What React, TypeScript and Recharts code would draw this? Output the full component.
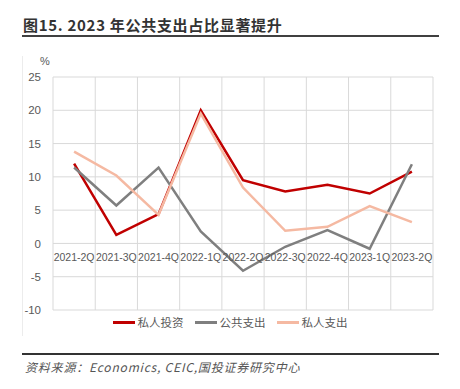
import React from 'react';
import {
  LineChart,
  Line,
  XAxis,
  YAxis,
  CartesianGrid,
} from 'recharts';

const quarters = [
  '2021-2Q',
  '2021-3Q',
  '2021-4Q',
  '2022-1Q',
  '2022-2Q',
  '2022-3Q',
  '2022-4Q',
  '2023-1Q',
  '2023-2Q',
];
const privateInvest = [12.0, 1.3, 4.4, 20.0, 9.5, 7.8, 8.8, 7.5, 10.8];
const publicSpend = [11.4, 5.7, 11.4, 1.8, -4.1, -0.5, 2.0, -0.8, 11.9];
const privateSpend = [13.8, 10.2, 4.3, 19.5, 8.4, 1.9, 2.5, 5.6, 3.2];
const yTicks = [-10, -5, 0, 5, 10, 15, 20, 25];

const series = [
  { name: '私人投资', values: privateInvest, color: '#c00000' },
  { name: '公共支出', values: publicSpend, color: '#7f7f7f' },
  { name: '私人支出', values: privateSpend, color: '#f5b9a2' },
];

// category i sits in the middle of band [i, i+1]
const data = quarters.map((q, i) => {
  const row: any = { name: q, pos: i + 0.5 };
  series.forEach((s) => (row[s.name] = s.values[i]));
  return row;
});
const labelTicks = quarters.map((_, i) => i + 0.5);
const gridTicks = [...quarters.map((_, i) => i), quarters.length];

const font = '"Liberation Sans", Arial, "Noto Sans CJK SC", sans-serif';
const cjk = '"Noto Sans CJK SC", sans-serif';

const QuarterTick = (props: any) => {
  const { x, y, payload } = props;
  return (
    <text
      x={x}
      y={y - 87}
      textAnchor="middle"
      fontSize={10.5}
      fill="#595959"
      fontFamily={font}
    >
      {quarters[Math.floor(payload.value)]}
    </text>
  );
};

export default function App() {
  return (
    <div
      style={{
        position: 'absolute',
        left: 0,
        top: 0,
        width: 460,
        height: 389,
        background: '#fff',
        fontFamily: font,
      }}
    >
      <div
        style={{
          position: 'absolute',
          left: 23,
          top: 14,
          fontSize: 15,
          fontWeight: 'bold',
          letterSpacing: 0.7,
          color: '#333',
          fontFamily: cjk,
          whiteSpace: 'nowrap',
        }}
      >
        图15. 2023 年公共支出占比显著提升
      </div>
      <div
        style={{
          position: 'absolute',
          left: 22,
          top: 35,
          width: 417,
          height: 2,
          background: '#404040',
        }}
      />
      <div
        style={{
          position: 'absolute',
          left: 22,
          top: 56,
          width: 1,
          height: 280,
          background: '#ececec',
        }}
      />
      <div
        style={{
          position: 'absolute',
          left: 40,
          top: 55,
          fontSize: 11,
          color: '#595959',
        }}
      >
        %
      </div>
      <div style={{ position: 'absolute', left: 0, top: 0 }}>
        <LineChart
          width={460}
          height={340}
          data={data}
          margin={{ top: 77, right: 27, bottom: 0, left: 0 }}
        >
          <XAxis
            xAxisId="grid"
            type="number"
            dataKey="pos"
            domain={[0, quarters.length]}
            ticks={gridTicks}
            hide
          />
          <XAxis
            xAxisId="lab"
            type="number"
            dataKey="pos"
            domain={[0, quarters.length]}
            ticks={labelTicks}
            interval={0}
            axisLine={false}
            tickLine={false}
            height={30}
            tick={<QuarterTick />}
          />
          <YAxis
            domain={[-10, 25]}
            ticks={yTicks}
            axisLine={false}
            tickLine={false}
            width={53}
            tick={{ fontSize: 11.5, fill: '#595959', fontFamily: font }}
            tickMargin={6}
          />
          <CartesianGrid xAxisId="grid" stroke="#d9d9d9" strokeWidth={1} />
          {series.map((s) => (
            <Line
              key={s.name}
              xAxisId="lab"
              dataKey={s.name}
              stroke={s.color}
              strokeWidth={2.5}
              dot={false}
              isAnimationActive={false}
            />
          ))}
        </LineChart>
      </div>
      <div
        style={{
          position: 'absolute',
          left: 0,
          top: 314,
          width: 460,
          display: 'flex',
          justifyContent: 'center',
          gap: 11,
          fontSize: 11.5,
          color: '#595959',
          fontFamily: cjk,
        }}
      >
        {series.map((s) => (
          <div key={s.name} style={{ display: 'flex', alignItems: 'center' }}>
            <div
              style={{
                width: 22,
                height: 3,
                background: s.color,
                marginRight: 3,
              }}
            />
            <span>{s.name}</span>
          </div>
        ))}
      </div>
      <div
        style={{
          position: 'absolute',
          left: 22,
          top: 353,
          width: 417,
          height: 1.5,
          background: '#333',
        }}
      />
      <div
        style={{
          position: 'absolute',
          left: 25,
          top: 358,
          fontSize: 12,
          fontStyle: 'italic',
          color: '#555',
          letterSpacing: 0.8,
          fontFamily: cjk,
          whiteSpace: 'nowrap',
        }}
      >
        资料来源：Economics, CEIC,国投证券研究中心
      </div>
    </div>
  );
}
